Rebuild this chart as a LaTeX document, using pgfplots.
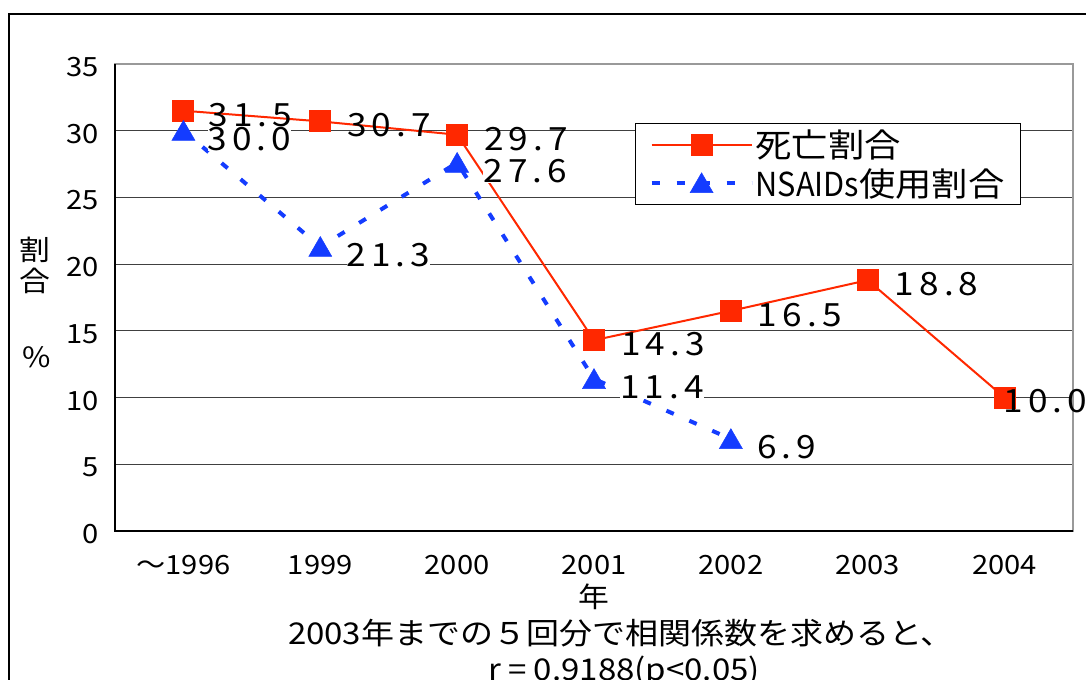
\documentclass[border=0pt]{standalone}
\usepackage{fontspec}
\setmainfont{Noto Sans CJK JP}[FakeStretch=1.1]
\newfontfamily\lblfont{Noto Sans CJK JP}[FakeStretch=1.1, LetterSpace=16]
\newfontfamily\narrowfont{Noto Sans CJK JP}[FakeStretch=0.93]
\usepackage{pgfplots}
\pgfplotsset{compat=1.18}
\definecolor{dred}{RGB}{255,40,0}
\definecolor{dblue}{RGB}{20,60,255}
\newcommand{\legfont}{\fontsize{33bp}{38bp}\selectfont}
\begin{document}
\begin{tikzpicture}
\path[use as bounding box] (0,0) rectangle (1086bp,-680bp);
\draw[black, line width=1.2bp] (9bp,-682bp) -- (9bp,-14bp) -- (1088bp,-14bp);
\begin{axis}[
  at={(115bp,-531bp)}, anchor=south west,
  scale only axis, width=958bp, height=467bp,
  xmin=-0.5, xmax=6.5, ymin=0, ymax=35,
  /pgf/number format/assume math mode=true,
  axis line style={black!40, line width=1.2bp},
  xtick={0,...,6},
  xticklabels={～1996,1999,2000,2001,2002,2003,2004},
  extra x ticks={0.5,1.5,2.5,3.5,4.5,5.5},
  extra x tick labels={},
  extra x tick style={grid=none, tick align=inside, major tick length=7bp, tick style={black, line width=1bp}},
  x tick style={draw=none},
  ytick={0,5,...,35},
  y tick style={draw=none},
  ymajorgrids, grid style={black!75, line width=1bp},
  tick label style={font=\fontsize{26.5bp}{30bp}\selectfont},
  yticklabel style={anchor=east, xshift=-13bp, yshift=-3bp},
  xticklabel style={anchor=north, yshift=-21bp},
  legend style={at={(0.543,0.874)}, anchor=north west, draw=black, fill=white,
    line width=0.8bp, font=\legfont,
    inner xsep=14bp, inner ysep=5bp, row sep=5bp,
    /tikz/every even column/.append style={column sep=4bp}},
  legend cell align=left,
  legend image code/.code={\draw[mark repeat=2,mark phase=2] plot coordinates {(0bp,0bp) (50bp,0bp) (100bp,0bp)};},
  clip=false,
]
\draw[black, line width=1.5bp] (rel axis cs:0,1) -- (rel axis cs:0,0) -- (rel axis cs:1,0);
\addplot[dred, line width=2bp, mark=square*, mark size=10bp, mark options={solid, fill=dred, draw=dred},
  visualization depends on={value \thisrow{dx} \as \dx},
  nodes near coords={\pgfmathprintnumber[fixed,fixed zerofill,precision=1]{\pgfplotspointmeta}},
  every node near coord/.style={anchor=west, xshift=\dx*1bp, yshift=-4bp, black, inner sep=0pt,
    font=\fontsize{32bp}{38bp}\lblfont},
  point meta=explicit]
  table[x=x, y=y, meta=y] {
x y dx
0 31.5 24
1 30.7 26
2 29.7 26
3 14.3 26
4 16.5 26
5 18.8 26
6 10.0 -2
};
\addlegendentry{\legfont 死亡割合}
\addplot[dblue, line width=4bp, dash pattern=on 8bp off 17bp, mark=triangle*, mark size=13.3bp,
  mark options={solid, fill=dblue, draw=dblue, line width=0.5bp, yshift=-3bp},
  visualization depends on={value \thisrow{dx} \as \dx},
  nodes near coords={\pgfmathprintnumber[fixed,fixed zerofill,precision=1]{\pgfplotspointmeta}},
  every node near coord/.style={anchor=west, xshift=\dx*1bp, yshift=-5bp, black, inner sep=0pt, fill=white,
    font=\fontsize{32bp}{38bp}\lblfont},
  point meta=explicit]
  table[x=x, y=y, meta=y] {
x y dx
0 30.0 24
1 21.3 26
2 27.6 26
3 11.4 26
4 6.9 26
};
\addlegendentry{\legfont{\narrowfont NSAIDs}使用割合}
\end{axis}
\node[font=\fontsize{28bp}{32bp}\selectfont] at (35bp,-250bp) {割};
\node[font=\fontsize{28bp}{32bp}\selectfont] at (35bp,-281bp) {合};
\node[font=\fontsize{28bp}{32bp}\selectfont] at (37bp,-357bp) {\%};
\node[font=\fontsize{28bp}{32bp}\selectfont] at (594bp,-597bp) {年};
\node[font=\fontsize{30bp}{34bp}\selectfont] at (621bp,-633bp) {2003年までの５回分で相関係数を求めると、};
\node[font=\fontsize{30bp}{34bp}\selectfont] at (624bp,-672bp) {r = 0.9188(p<0.05)};
\end{tikzpicture}
\end{document}
